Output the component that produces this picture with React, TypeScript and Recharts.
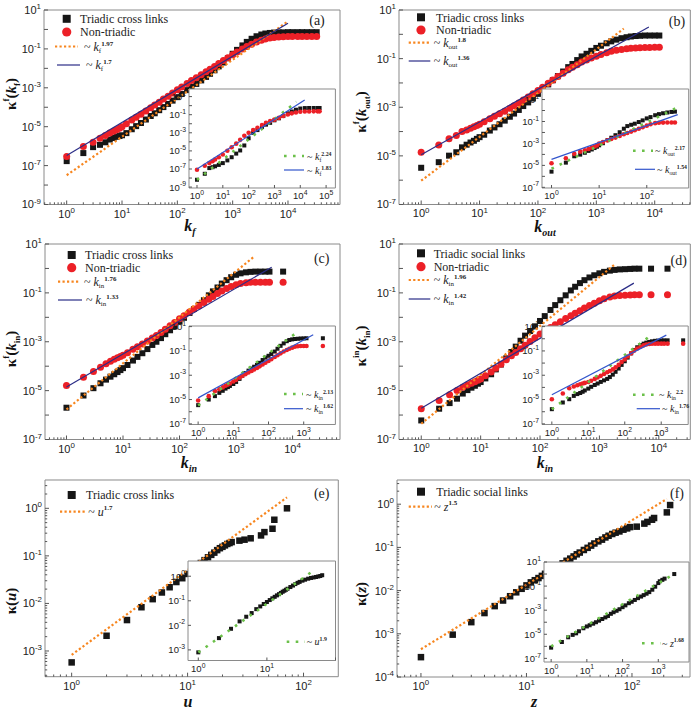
import React from 'react';
import { ComposedChart, Scatter, XAxis, YAxis, ReferenceArea } from 'recharts';

// ---------------- Panel (a) ----------------
const A_K = [1,2,3,4,5,6,7,8,9,10,12,15,18,22,27,33,39,47,56,68,82,100,120,150,180,220,270,330,390,470,560,680,820,1000,1200,1500,1800,2200,2700,3300,3900,4700,5600,6800,8200,10000,12000,15000,18000,22000,27000,33000];
const A_TRIADIC = [1.7e-7,4.4e-7,8.9e-7,1.17e-6,1.58e-6,2.19e-6,2.63e-6,3.02e-6,3.31e-6,3.63e-6,
  4.68e-6,7.41e-6,1.07e-5,1.55e-5,2.34e-5,3.55e-5,4.9e-5,7.08e-5,1.02e-4,1.48e-4,2.19e-4,
  3.31e-4,4.79e-4,7.59e-4,1.1e-3,1.58e-3,2.4e-3,3.63e-3,5.25e-3,7.94e-3,1.26e-2,2.0e-2,3.31e-2,
  5.62e-2,8.91e-2,0.151,0.229,0.331,0.447,0.55,0.617,0.661,0.692,0.708,0.708,
  0.724,0.724,0.724,0.724,0.724,0.724,0.724];
const A_NON = [2.95e-7,9.55e-7,1.58e-6,2.57e-6,3.55e-6,4.68e-6,5.75e-6,6.92e-6,8.32e-6,1e-5,
  1.41e-5,2.19e-5,3.09e-5,4.37e-5,6.46e-5,9.55e-5,1.29e-4,1.82e-4,2.63e-4,3.72e-4,5.37e-4,
  7.94e-4,1.1e-3,1.66e-3,2.34e-3,3.24e-3,4.68e-3,6.76e-3,9.12e-3,1.26e-2,1.78e-2,2.51e-2,3.55e-2,
  5.01e-2,6.92e-2,0.1,0.132,0.174,0.224,0.282,0.324,0.363,0.389,0.407,0.427,
  0.437,0.437,0.437,0.437,0.437,0.437,0.437];
const A_FIT1_K = [1, 10000]; const A_FIT1 = [3.2e-8, 2.6];
const A_FIT2_K = [1, 10000]; const A_FIT2 = [3.3e-7, 2.1];

const AI_K = [1,2,3,4,5,7,10,15,22,33,47,68,100,150,220,330,470,680,1000,1500,2200,3300,4700,6800,10000,15000,22000,33000,47000,56000];
const AI_TRIADIC = [6.46e-9,2.95e-8,1.26e-7,1.58e-7,2.0e-7,2.82e-7,4.47e-7,8.91e-7,2.0e-6,5.01e-6,1.12e-5,3.98e-5,2.51e-4,1e-3,2.0e-3,4.47e-3,7.94e-3,1.26e-2,2.4e-2,3.98e-2,7.08e-2,0.141,0.224,0.355,0.479,0.537,0.55,0.55,0.55,0.55];
const AI_NON = [8.32e-8,2.29e-7,4.47e-7,7.08e-7,1.12e-6,2.0e-6,3.98e-6,1.05e-5,2.51e-5,6.31e-5,1.66e-4,4.68e-4,1e-3,2.0e-3,3.55e-3,7.08e-3,1.26e-2,2.0e-2,2.82e-2,4.47e-2,7.08e-2,0.105,0.141,0.178,0.209,0.224,0.229,0.234,0.234,0.234];
const AI_FIT1_K = [1, 7080]; const AI_FIT1 = [6.3e-9, 2.6];
const AI_FIT2_K = [1, 14800]; const AI_FIT2 = [1e-7, 4.3];

// ---------------- Panel (b) ----------------
const B_K = [1,2,3,4,5,6,7,8,9,10,12,15,18,22,27,33,39,47,56,68,82,100,120,150,180,220,270,330,390,470,560,680,820,1000,1200,1500,1800,2200,2700,3300,3900,4700,5600,6800,8200,10000,12000];
const B_TRIADIC = [3.24e-6,5.5e-6,1.02e-5,1.41e-5,2.24e-5,2.88e-5,3.55e-5,4.17e-5,5.01e-5,5.89e-5,
  7.41e-5,1.1e-4,1.48e-4,2.0e-4,2.82e-4,4.07e-4,5.5e-4,7.76e-4,1.12e-3,1.58e-3,2.29e-3,
  3.55e-3,5.37e-3,8.71e-3,1.29e-2,1.91e-2,2.95e-2,4.47e-2,6.03e-2,8.71e-2,0.123,0.158,0.209,
  0.275,0.339,0.427,0.513,0.603,0.692,0.759,0.813,0.851,0.871,0.891,0.891,0.891,0.891];
const B_NON = [1.41e-5,2.82e-5,5.01e-5,6.92e-5,1e-4,1.17e-4,1.38e-4,1.58e-4,1.78e-4,2.0e-4,
  2.51e-4,3.39e-4,4.27e-4,5.37e-4,6.92e-4,9.12e-4,1.15e-3,1.51e-3,2.0e-3,2.63e-3,3.55e-3,
  4.9e-3,6.61e-3,9.77e-3,1.32e-2,1.82e-2,2.51e-2,3.47e-2,4.37e-2,5.62e-2,7.24e-2,8.71e-2,0.105,
  0.126,0.148,0.174,0.2,0.219,0.24,0.257,0.269,0.275,0.282,0.288,0.288,0.295,0.295];
const B_FIT1_K = [1, 2950]; const B_FIT1 = [9.5e-7, 1.7];
const B_FIT2_K = [1, 7940]; const B_FIT2 = [1.12e-5, 2.0];

const BI_K = [1,2,3,4,5,6,7,8,9,10,12,15,18,22,27,33,39,47,56,68,82,100,120,150,180,220,270,330,390];
const BI_TRIADIC = [2.69e-6,1.78e-5,6.76e-5,9.55e-5,1.41e-4,2.09e-4,2.82e-4,3.8e-4,5.01e-4,6.76e-4,1.05e-3,2.0e-3,3.31e-3,5.62e-3,1.05e-2,2.19e-2,3.8e-2,5.01e-2,6.31e-2,8.91e-2,0.126,0.191,0.251,0.372,0.468,0.562,0.661,0.741,0.794];
const BI_NON = [1.58e-5,4.47e-5,1.12e-4,1.78e-4,2.4e-4,3.16e-4,4.17e-4,5.25e-4,6.61e-4,1e-3,1.32e-3,1.91e-3,2.51e-3,3.39e-3,4.79e-3,6.92e-3,8.91e-3,1.2e-2,1.58e-2,2.19e-2,3.02e-2,4.17e-2,5.62e-2,7.08e-2,7.59e-2,7.94e-2,8.13e-2,8.13e-2,8.13e-2];
const BI_FIT1_K = [1, 430]; const BI_FIT1 = [5e-6, 1.8];
const BI_FIT2_K = [1, 447]; const BI_FIT2 = [3.55e-5, 0.427];

// ---------------- Panel (c) ----------------
const C_K = [1,2,3,4,5,6,7,8,9,10,12,15,18,22,27,33,39,47,56,68,82,100,120,150,180,220,270,330,390,470,560,680,820,1000,1200,1500,1800,2200,2700,3300,3900,6800];
const C_TRIADIC = [2.0e-6,6.31e-6,1.26e-5,2.0e-5,2.82e-5,3.72e-5,4.68e-5,5.75e-5,6.92e-5,8.32e-5,
  1.12e-4,1.7e-4,2.4e-4,3.39e-4,5.01e-4,7.41e-4,1e-3,1.41e-3,2.04e-3,2.95e-3,4.27e-3,
  6.61e-3,9.55e-3,1.51e-2,2.19e-2,3.24e-2,5.01e-2,7.94e-2,0.115,0.166,0.24,0.331,0.437,
  0.55,0.631,0.692,0.724,0.741,0.741,0.741,0.741,0.741];
const C_NON = [1.62e-5,3.55e-5,6.03e-5,9.12e-5,1.26e-4,1.58e-4,1.91e-4,2.19e-4,2.51e-4,2.82e-4,
  3.55e-4,4.9e-4,6.31e-4,8.13e-4,1.07e-3,1.41e-3,1.82e-3,2.4e-3,3.24e-3,4.47e-3,6.17e-3,
  8.71e-3,1.15e-2,1.66e-2,2.19e-2,2.88e-2,4.07e-2,5.5e-2,7.08e-2,9.33e-2,0.12,0.151,0.182,
  0.214,0.24,0.257,0.269,0.275,0.275,0.275,0.275,0.275];
const C_FIT1_K = [1, 2140]; const C_FIT1 = [1.7e-6, 3.2];
const C_FIT2_K = [1, 4270]; const C_FIT2 = [1.41e-5, 1.12];

const CI_K = [1,2,3,4,5,6,7,8,10,12,15,18,22,27,33,39,47,56,68,82,100,120,150,180,220,270,330,390,470,560,680,820,1000,1200,3500];
const CI_TRIADIC = [3.47e-6,1e-5,1.91e-5,3.55e-5,5.25e-5,7.94e-5,1.05e-4,1.32e-4,1.91e-4,2.82e-4,5.01e-4,8.91e-4,1.51e-3,2.4e-3,3.55e-3,5.01e-3,7.08e-3,1.05e-2,1.78e-2,2.82e-2,3.98e-2,5.62e-2,8.91e-2,0.151,0.263,0.417,0.631,0.794,0.891,0.955,1.0,1.05,1.07,1.1,1.1];
const CI_NON = [8.32e-6,1.91e-5,4.9e-5,7.08e-5,1e-4,1.35e-4,1.7e-4,2.09e-4,3.02e-4,4.17e-4,6.31e-4,8.71e-4,1.2e-3,1.66e-3,2.24e-3,2.95e-3,3.98e-3,5.37e-3,7.59e-3,1.07e-2,1.51e-2,2.09e-2,3.16e-2,4.37e-2,6.31e-2,8.91e-2,0.12,0.151,0.186,0.219,0.24,0.251,0.257,0.257,0.257];
const CI_FIT1_K = [1, 630]; const CI_FIT1 = [3.2e-6, 3.2];
const CI_FIT2_K = [1, 1860]; const CI_FIT2 = [1.38e-5, 2.1];

// ---------------- Panel (d) ----------------
const D_K = [1,2,3,4,5,6,7,8,9,10,12,15,18,22,27,33,39,47,56,68,82,100,120,150,180,220,270,330,390,470,560,680,820,1000,1200,1500,1800,2200,2700,3300,3900,4700,7400,14000];
const D_TRIADIC = [6.03e-7,1.82e-6,3.09e-6,4.68e-6,7.59e-6,1.05e-5,1.32e-5,1.58e-5,1.91e-5,2.24e-5,
  3.16e-5,4.68e-5,7.41e-5,1.17e-4,2.09e-4,3.8e-4,6.31e-4,1.1e-3,1.78e-3,2.75e-3,4.27e-3,
  7.08e-3,1.12e-2,2.0e-2,3.16e-2,5.01e-2,7.94e-2,0.126,0.178,0.251,0.331,0.427,0.525,
  0.631,0.724,0.813,0.871,0.912,0.933,0.955,0.977,0.977,0.977,0.977];
const D_NON = [1.82e-6,3.98e-6,6.76e-6,1.02e-5,1.38e-5,1.7e-5,2.0e-5,2.29e-5,2.63e-5,3.02e-5,
  4.07e-5,5.75e-5,8.32e-5,1.2e-4,1.82e-4,2.69e-4,3.63e-4,5.13e-4,7.24e-4,1.02e-3,1.45e-3,
  2.09e-3,2.75e-3,3.8e-3,5.01e-3,6.61e-3,8.91e-3,1.17e-2,1.45e-2,1.86e-2,2.4e-2,3.02e-2,3.8e-2,
  4.79e-2,5.75e-2,6.76e-2,7.41e-2,7.76e-2,7.94e-2,8.13e-2,8.32e-2,8.32e-2,8.32e-2,8.32e-2];
const D_FIT1_K = [1, 1780]; const D_FIT1 = [4.4e-7, 1.41];
const D_FIT2_K = [1, 3800]; const D_FIT2 = [1.9e-6, 0.251];

const DI_K = [1,2,3,4,5,6,7,8,10,12,15,18,22,27,33,39,47,56,68,82,100,120,150,180,220,270,330,390,470,560,680,820,1000,1200,1500,4000];
const DI_TRIADIC = [1.62e-6,5.75e-6,1.07e-5,2.0e-5,2.82e-5,3.47e-5,4.37e-5,5.62e-5,7.94e-5,1.12e-4,1.58e-4,2.09e-4,2.82e-4,3.8e-4,5.01e-4,7.08e-4,1.12e-3,1.91e-3,3.55e-3,7.08e-3,1.41e-2,2.82e-2,6.31e-2,0.12,0.2,0.302,0.398,0.479,0.55,0.617,0.676,0.708,0.724,0.741,0.741,0.741];
const DI_NON = [1.07e-5,3.16e-5,8.51e-5,1.2e-4,1.51e-4,1.82e-4,2.09e-4,2.34e-4,2.82e-4,3.55e-4,5.01e-4,6.61e-4,8.91e-4,1.26e-3,1.74e-3,2.24e-3,3.02e-3,4.47e-3,7.08e-3,1.2e-2,2.0e-2,3.47e-2,6.31e-2,0.105,0.158,0.224,0.288,0.339,0.372,0.389,0.398,0.398,0.398,0.398,0.398,0.398];
const DI_FIT1_K = [1, 537]; const DI_FIT1 = [1.6e-6, 2.0];
const DI_FIT2_K = [1, 1380]; const DI_FIT2 = [2.45e-5, 2.0];

// ---------------- Panel (e) ----------------
const E_U = [1,2,3,4,5,6,7,8,9,10,11,12,13,14,15,16,17,18,19,20,21,22,23,24,28,31,35,43,46,54,56,72];
const E_TRIADIC = [5.75e-4,2.09e-3,4.47e-3,8.32e-3,1.23e-2,1.7e-2,2.19e-2,2.82e-2,3.39e-2,4.17e-2,5.01e-2,6.03e-2,7.08e-2,8.13e-2,9.33e-2,0.105,0.117,0.132,0.145,0.155,0.166,0.178,0.186,0.195,0.209,0.219,0.234,0.269,0.316,0.372,0.575,1.0];
const E_FIT_U = [1, 72]; const E_FIT = [8.3e-4, 1.7];

const EI_U = [1,2,3,4,5,6,7,8,9,10,11,12,13,14,15,16,17,18,19,20,22,24,26,28,30,33,36,40,44,48,52,56,60,64];
const EI_TRIADIC = [7.94e-4,3.02e-3,7.24e-3,1.45e-2,2.24e-2,3.16e-2,4.57e-2,5.89e-2,7.41e-2,8.91e-2,0.107,0.126,0.145,0.166,0.186,0.209,0.234,0.257,0.282,0.309,0.363,0.417,0.479,0.537,0.589,0.661,0.724,0.794,0.851,0.891,0.933,0.977,1.02,1.1];
const EI_FIT_U = [1, 50]; const EI_FIT = [7.9e-4, 1.86];

// ---------------- Panel (f) ----------------
const F_Z = [1,2,3,4,5,6,7,8,9,10,11,12,13,14,15,16,17,18,19,20,22,24,26,28,30,32,35,38,41,44,48,52,56,60,65,70,76,83,90,96,111,131,140,155,162,214,230];
const F_TRIADIC = [2.88e-4,9.55e-4,1.86e-3,3.02e-3,4.37e-3,5.89e-3,7.41e-3,9.12e-3,1.1e-2,1.32e-2,1.55e-2,1.74e-2,1.95e-2,2.19e-2,2.45e-2,2.69e-2,2.95e-2,3.24e-2,3.47e-2,3.72e-2,
  4.27e-2,4.9e-2,5.5e-2,6.17e-2,6.92e-2,7.59e-2,8.71e-2,9.77e-2,0.11,0.123,0.138,0.151,0.17,0.186,0.204,0.219,0.234,0.257,0.275,0.295,
  0.302,0.355,0.389,0.437,0.479,0.646,0.955];
const F_FIT_Z = [1, 214]; const F_FIT = [4.4e-4, 1.32];

const FI_Z = [1,2,3,4,5,6,8,10,12,15,18,22,27,33,39,47,56,68,82,100,120,150,180,220,270,330,390,470,560,680,820,1000,1100,1300,1500,2800];
const FI_TRIADIC = [7.76e-7,2.29e-6,5.62e-6,8.91e-6,1.2e-5,1.78e-5,3.16e-5,4.47e-5,5.62e-5,7.59e-5,1e-4,1.35e-4,1.86e-4,2.51e-4,3.31e-4,5.01e-4,6.76e-4,8.91e-4,1.2e-3,1.78e-3,2.51e-3,3.8e-3,5.01e-3,7.08e-3,1e-2,1.35e-2,1.78e-2,2.34e-2,3.16e-2,5.01e-2,8.91e-2,0.178,0.251,0.331,0.417,1.0];
const FI_FIT_Z = [1, 2750]; const FI_FIT = [1e-6, 1.0];

// ---------------- styling ----------------
const SANS = '"Liberation Sans", Arial, sans-serif';
const SERIF = '"Liberation Serif", "Times New Roman", serif';
const C_BLACK = '#161616';
const C_RED = '#ec2027';
const C_ORANGE = '#f7861f';
const C_NAVY = '#2b2d87';
const C_BLUE = '#3355cc';
const C_GREEN = '#6cc04a';
const C_FRAME = '#8a8a8a';
const C_TICK = '#555';

type Pt = { x: number; y: number };
const zip = (xs: number[], ys: number[]): Pt[] => xs.map((x, i) => ({ x, y: ys[i] }));

function logTicks(dom: [number, number], minor: boolean): number[] {
  const out: number[] = [];
  const lo = Math.floor(Math.log10(dom[0]));
  const hi = Math.ceil(Math.log10(dom[1]));
  for (let e = lo; e <= hi; e++) {
    const base = Math.pow(10, e);
    const ms = minor ? [1, 2, 3, 4, 5, 6, 7, 8, 9] : [1];
    for (const m of ms) {
      const v = m * base;
      if (v >= dom[0] * 0.9999 && v <= dom[1] * 1.0001) out.push(v);
    }
  }
  return out;
}

function makeTick(orient: 'x' | 'y', fs: number, labels: number[], len: number) {
  return (props: any) => {
    const { x, y, payload } = props;
    const v = payload.value;
    const lg = Math.log10(v);
    const e = Math.round(lg);
    const isDec = Math.abs(lg - e) < 1e-6;
    const l = isDec ? len : len * 0.55;
    const lab = isDec && labels.indexOf(e) >= 0;
    const sfs = fs * 0.72;
    if (orient === 'x') {
      return (
        <g>
          <line x1={x} y1={y} x2={x} y2={y - l} stroke={C_TICK} strokeWidth={1} />
          {lab ? (
            <text x={x} y={y + fs + 2} textAnchor="middle" fontSize={fs} fontFamily={SANS} fill="#222">
              10<tspan dy={-fs * 0.45} fontSize={sfs}>{String(e)}</tspan>
            </text>
          ) : null}
        </g>
      );
    }
    return (
      <g>
        <line x1={x} y1={y} x2={x + l} y2={y} stroke={C_TICK} strokeWidth={1} />
        {lab ? (
          <text x={x - 3} y={y + fs * 0.36} textAnchor="end" fontSize={fs} fontFamily={SANS} fill="#222">
            10<tspan dy={-fs * 0.45} fontSize={sfs}>{String(e)}</tspan>
          </text>
        ) : null}
      </g>
    );
  };
}

const sqShape = (s: number, c: string) => (p: any) => (
  <rect x={p.cx - s / 2} y={p.cy - s / 2} width={s} height={s} fill={c} />
);
const ciShape = (s: number, c: string) => (p: any) => <circle cx={p.cx} cy={p.cy} r={s / 2} fill={c} />;
const noShape = () => <g />;

function dots(key: string, xs: number[], ys: number[], kind: 'sq' | 'ci', size: number, color: string) {
  return (
    <Scatter key={key} data={zip(xs, ys)} isAnimationActive={false} fill={color}
      shape={kind === 'sq' ? sqShape(size, color) : ciShape(size, color)} />
  );
}
function fit(key: string, xs: number[], ys: number[], color: string, width: number, dash?: string) {
  return (
    <Scatter key={key} data={zip(xs, ys)} isAnimationActive={false} fill={color}
      line={{ stroke: color, strokeWidth: width, strokeDasharray: dash }} shape={noShape} />
  );
}

interface PanelProps {
  box: [number, number, number, number];
  xDom: [number, number];
  yDom: [number, number];
  xMinor: boolean;
  yMinor: boolean;
  xLab: number[];
  yLab: number[];
  fs: number;
  len: number;
  inset?: boolean;
  children: React.ReactNode;
}

function LogPanel(p: PanelProps) {
  const YW = 46, XH = 26, MT = 10, MR = 6;
  const [l, t, r, b] = p.box;
  const w = r - l;
  const h = b - t;
  return (
    <>
      {p.inset ? (
        <div style={{ position: 'absolute', left: l, top: t, width: w, height: h, background: '#fff' }} />
      ) : null}
      <div style={{ position: 'absolute', left: l - YW, top: t - MT }}>
        <ComposedChart width={w + YW + MR} height={h + MT + XH} margin={{ top: MT, right: MR, bottom: 0, left: 0 }}>
          <XAxis dataKey="x" type="number" scale="log" domain={p.xDom} allowDataOverflow
            ticks={logTicks(p.xDom, p.xMinor)} interval={0} tickSize={0} tickMargin={0}
            axisLine={false} tickLine={false} height={XH} tick={makeTick('x', p.fs, p.xLab, p.len)} />
          <YAxis dataKey="y" type="number" scale="log" domain={p.yDom} allowDataOverflow
            ticks={logTicks(p.yDom, p.yMinor)} interval={0} tickSize={0} tickMargin={0}
            axisLine={false} tickLine={false} width={YW} tick={makeTick('y', p.fs, p.yLab, p.len)} />
          <ReferenceArea x1={p.xDom[0]} x2={p.xDom[1]} y1={p.yDom[0]} y2={p.yDom[1]}
            fill="none" fillOpacity={0} stroke={C_FRAME} strokeWidth={1} ifOverflow="visible" />
          {p.children}
        </ComposedChart>
      </div>
    </>
  );
}

// -------- overlay text helpers --------
function PowText({ x, y, v, sub, exp, fs }: { x: number; y: number; v: string; sub?: string; exp: string; fs: number }) {
  const sf = fs * 0.58;
  return (
    <text x={x} y={y} fontSize={fs} fontFamily={SERIF} fill="#222">
      {'~ '}
      <tspan fontStyle="italic">{v}</tspan>
      {sub ? <tspan fontSize={sf} dy={fs * 0.2}>{sub}</tspan> : null}
      <tspan fontSize={sf} fontWeight="bold" dy={sub ? -fs * 0.6 : -fs * 0.42}>{exp}</tspan>
    </text>
  );
}
function YTitle({ cx, cy, sup, v, sub }: { cx: number; cy: number; sup?: string; v: string; sub?: string }) {
  return (
    <text transform={`translate(${cx},${cy}) rotate(-90)`} textAnchor="middle" fontFamily={SERIF}
      fontSize={15} fontWeight="bold" fill="#111">
      {'κ'}
      {sup ? <tspan fontSize={9} dy={-7}>{sup}</tspan> : null}
      <tspan dy={sup ? 7 : 0}>(</tspan>
      <tspan fontStyle="italic">{v}</tspan>
      {sub ? <tspan fontSize={9} dy={4}>{sub}</tspan> : null}
      <tspan dy={sub ? -4 : 0}>)</tspan>
    </text>
  );
}
function XTitle({ x, y, v, sub }: { x: number; y: number; v: string; sub?: string }) {
  return (
    <text x={x} y={y} textAnchor="middle" fontFamily={SERIF} fontSize={16} fontWeight="bold" fontStyle="italic" fill="#111">
      {v}
      {sub ? <tspan fontSize={10} dy={4}>{sub}</tspan> : null}
    </text>
  );
}
function LegSq({ x, y }: { x: number; y: number }) {
  return <rect x={x - 4} y={y - 4} width={8} height={8} fill={C_BLACK} />;
}
function LegCi({ x, y }: { x: number; y: number }) {
  return <circle cx={x} cy={y} r={4.6} fill={C_RED} />;
}
function LegText({ x, y, t }: { x: number; y: number; t: string }) {
  return <text x={x} y={y} fontSize={12} fontFamily={SERIF} fill="#222">{t}</text>;
}
function LegLine({ x1, x2, y, c, w, dash }: { x1: number; x2: number; y: number; c: string; w: number; dash?: string }) {
  return <line x1={x1} x2={x2} y1={y} y2={y} stroke={c} strokeWidth={w} strokeDasharray={dash} />;
}
function Tag({ x, y, t }: { x: number; y: number; t: string }) {
  return <text x={x} y={y} textAnchor="middle" fontSize={14} fontFamily={SERIF} fill="#222">{t}</text>;
}

const OR_DASH = '2.2 2.3';
const GR_DASH = '2.6 6.4';

export default function App() {
  return (
    <div style={{ position: 'absolute', left: 0, top: 0, width: 694, height: 711, background: '#fff', overflow: 'hidden' }}>
      {/* (a) */}
      <LogPanel box={[44, 9.5, 340, 204]} xDom={[0.389, 87100]} yDom={[1e-9, 10]} xMinor yMinor={false}
        xLab={[0, 1, 2, 3, 4]} yLab={[1, -1, -3, -5, -7, -9]} fs={11} len={4}>
        {dots('t', A_K, A_TRIADIC, 'sq', 6, C_BLACK)}
        {dots('n', A_K, A_NON, 'ci', 7, C_RED)}
        {fit('f1', A_FIT1_K, A_FIT1, C_ORANGE, 2.2, OR_DASH)}
        {fit('f2', A_FIT2_K, A_FIT2, C_NAVY, 1.2)}
      </LogPanel>
      <LogPanel box={[189.3, 89.3, 335.7, 188.3]} xDom={[0.49, 229000]} yDom={[7.94e-10, 69]} xMinor={false} yMinor={false}
        xLab={[0, 1, 2, 3, 4, 5]} yLab={[1, -1, -3, -5, -7, -9]} fs={9.5} len={3} inset>
        {dots('t', AI_K, AI_TRIADIC, 'sq', 4, C_BLACK)}
        {dots('n', AI_K, AI_NON, 'ci', 4.6, C_RED)}
        {fit('f1', AI_FIT1_K, AI_FIT1, C_GREEN, 2.6, GR_DASH)}
        {fit('f2', AI_FIT2_K, AI_FIT2, C_BLUE, 1.2)}
      </LogPanel>

      {/* (b) */}
      <LogPanel box={[398.7, 9.5, 690, 204]} xDom={[0.417, 40700]} yDom={[1e-7, 10]} xMinor yMinor={false}
        xLab={[0, 1, 2, 3, 4]} yLab={[1, -1, -3, -5, -7]} fs={11} len={4}>
        {dots('t', B_K, B_TRIADIC, 'sq', 6, C_BLACK)}
        {dots('n', B_K, B_NON, 'ci', 7, C_RED)}
        {fit('f1', B_FIT1_K, B_FIT1, C_ORANGE, 2.2, OR_DASH)}
        {fit('f2', B_FIT2_K, B_FIT2, C_NAVY, 1.2)}
      </LogPanel>
      <LogPanel box={[542, 89.3, 688.7, 188.3]} xDom={[0.631, 758.6]} yDom={[8.7e-8, 91.2]} xMinor={false} yMinor={false}
        xLab={[0, 1, 2]} yLab={[1, -1, -3, -5, -7]} fs={9.5} len={3} inset>
        {dots('t', BI_K, BI_TRIADIC, 'sq', 4, C_BLACK)}
        {dots('n', BI_K, BI_NON, 'ci', 4.6, C_RED)}
        {fit('f1', BI_FIT1_K, BI_FIT1, C_GREEN, 2.6, GR_DASH)}
        {fit('f2', BI_FIT2_K, BI_FIT2, C_BLUE, 1.2)}
      </LogPanel>

      {/* (c) */}
      <LogPanel box={[45, 243.5, 340, 439]} xDom={[0.417, 69000]} yDom={[1e-7, 10]} xMinor yMinor={false}
        xLab={[0, 1, 2, 3, 4]} yLab={[1, -1, -3, -5, -7]} fs={11} len={4}>
        {dots('t', C_K, C_TRIADIC, 'sq', 6, C_BLACK)}
        {dots('n', C_K, C_NON, 'ci', 7, C_RED)}
        {fit('f1', C_FIT1_K, C_FIT1, C_ORANGE, 2.2, OR_DASH)}
        {fit('f2', C_FIT2_K, C_FIT2, C_NAVY, 1.2)}
      </LogPanel>
      <LogPanel box={[189.3, 326, 335.7, 424.5]} xDom={[0.55, 7943]} yDom={[8.9e-8, 11.2]} xMinor={false} yMinor={false}
        xLab={[0, 1, 2, 3]} yLab={[1, -1, -3, -5, -7]} fs={9.5} len={3} inset>
        {dots('t', CI_K, CI_TRIADIC, 'sq', 4, C_BLACK)}
        {dots('n', CI_K, CI_NON, 'ci', 4.6, C_RED)}
        {fit('f1', CI_FIT1_K, CI_FIT1, C_GREEN, 2.6, GR_DASH)}
        {fit('f2', CI_FIT2_K, CI_FIT2, C_BLUE, 1.2)}
      </LogPanel>

      {/* (d) */}
      <LogPanel box={[398.7, 243.5, 690, 439]} xDom={[0.422, 33900]} yDom={[1e-7, 10]} xMinor yMinor={false}
        xLab={[0, 1, 2, 3, 4]} yLab={[1, -1, -3, -5, -7]} fs={11} len={4}>
        {dots('t', D_K, D_TRIADIC, 'sq', 6, C_BLACK)}
        {dots('n', D_K, D_NON, 'ci', 7, C_RED)}
        {fit('f1', D_FIT1_K, D_FIT1, C_ORANGE, 2.2, OR_DASH)}
        {fit('f2', D_FIT2_K, D_FIT2, C_NAVY, 1.2)}
      </LogPanel>
      <LogPanel box={[542.3, 326, 688.5, 424.5]} xDom={[0.537, 5495]} yDom={[8.9e-8, 11.2]} xMinor={false} yMinor={false}
        xLab={[0, 1, 2, 3]} yLab={[1, -1, -3, -5, -7]} fs={9.5} len={3} inset>
        {dots('t', DI_K, DI_TRIADIC, 'sq', 4, C_BLACK)}
        {dots('n', DI_K, DI_NON, 'ci', 4.6, C_RED)}
        {fit('f1', DI_FIT1_K, DI_FIT1, C_GREEN, 2.6, GR_DASH)}
        {fit('f2', DI_FIT2_K, DI_FIT2, C_BLUE, 1.2)}
      </LogPanel>

      {/* (e) */}
      <LogPanel box={[45, 480, 338.3, 676.7]} xDom={[0.589, 199.5]} yDom={[2.88e-4, 3.94]} xMinor yMinor
        xLab={[0, 1, 2]} yLab={[0, -1, -2, -3]} fs={11} len={4}>
        {dots('t', E_U, E_TRIADIC, 'sq', 6.5, C_BLACK)}
        {fit('f1', E_FIT_U, E_FIT, C_ORANGE, 2.2, OR_DASH)}
      </LogPanel>
      <LogPanel box={[188, 561, 335.5, 660.5]} xDom={[0.708, 100]} yDom={[3.7e-4, 4.17]} xMinor={false} yMinor={false}
        xLab={[0, 1]} yLab={[0, -1, -2, -3]} fs={9.5} len={3} inset>
        {dots('t', EI_U, EI_TRIADIC, 'sq', 4, C_BLACK)}
        {fit('f1', EI_FIT_U, EI_FIT, C_GREEN, 2.6, GR_DASH)}
      </LogPanel>

      {/* (f) */}
      <LogPanel box={[397, 480, 690, 677]} xDom={[0.593, 354.8]} yDom={[1e-4, 3.63]} xMinor yMinor
        xLab={[0, 1, 2]} yLab={[0, -1, -2, -3, -4]} fs={11} len={4}>
        {dots('t', F_Z, F_TRIADIC, 'sq', 6.5, C_BLACK)}
        {fit('f1', F_FIT_Z, F_FIT, C_ORANGE, 2.2, OR_DASH)}
      </LogPanel>
      <LogPanel box={[543.7, 561.7, 688.7, 661.7]} xDom={[0.631, 7244]} yDom={[5e-8, 10]} xMinor={false} yMinor={false}
        xLab={[0, 1, 2, 3]} yLab={[1, -1, -3, -5, -7]} fs={9.5} len={3} inset>
        {dots('t', FI_Z, FI_TRIADIC, 'sq', 4, C_BLACK)}
        {fit('f1', FI_FIT_Z, FI_FIT, C_GREEN, 2.6, GR_DASH)}
      </LogPanel>

      {/* texts, legends, titles */}
      <svg width={694} height={711} style={{ position: 'absolute', left: 0, top: 0, pointerEvents: 'none' }}>
        {/* (a) */}
        <LegSq x={66.7} y={18.8} /><LegText x={80} y={23} t="Triadic cross links" />
        <LegCi x={66.7} y={32} /><LegText x={80} y={36.3} t="Non-triadic" />
        <LegLine x1={55} x2={78} y={46.5} c={C_ORANGE} w={2.2} dash={OR_DASH} />
        <PowText x={84} y={50.5} v="k" sub="f" exp="1.97" fs={12} />
        <LegLine x1={57} x2={80} y={65} c={C_NAVY} w={1.2} />
        <PowText x={86} y={69} v="k" sub="f" exp="1.7" fs={12} />
        <Tag x={317} y={24.5} t="(a)" />
        <LegLine x1={284} x2={304} y={156} c={C_GREEN} w={2.6} dash={GR_DASH} />
        <PowText x={307} y={159.5} v="k" sub="f" exp="2.24" fs={10} />
        <LegLine x1={284} x2={304} y={170} c={C_BLUE} w={1.2} />
        <PowText x={307} y={173.5} v="k" sub="f" exp="1.83" fs={10} />
        <YTitle cx={16} cy={94} sup="f" v="k" sub="f" />
        <XTitle x={190} y={231} v="k" sub="f" />

        {/* (b) */}
        <LegSq x={421} y={17.3} /><LegText x={436} y={21.5} t="Triadic cross links" />
        <LegCi x={421} y={30} /><LegText x={436} y={34} t="Non-triadic" />
        <LegLine x1={408.7} x2={430.3} y={42.7} c={C_ORANGE} w={2.2} dash={OR_DASH} />
        <PowText x={433.7} y={46.5} v="k" sub="out" exp="1.8" fs={12} />
        <LegLine x1={408.7} x2={430.3} y={61} c={C_NAVY} w={1.2} />
        <PowText x={433.7} y={65} v="k" sub="out" exp="1.36" fs={12} />
        <Tag x={677} y={26} t="(b)" />
        <LegLine x1={633} x2={653} y={150.7} c={C_GREEN} w={2.6} dash={GR_DASH} />
        <PowText x={655} y={154} v="k" sub="out" exp="2.17" fs={10} />
        <LegLine x1={635} x2={655} y={169.3} c={C_BLUE} w={1.2} />
        <PowText x={657} y={172.5} v="k" sub="out" exp="1.54" fs={10} />
        <YTitle cx={366} cy={112} sup="f" v="k" sub="out" />
        <XTitle x={545} y={232} v="k" sub="out" />

        {/* (c) */}
        <LegSq x={71.7} y={255} /><LegText x={85} y={259} t="Triadic cross links" />
        <LegCi x={71.7} y={267.7} /><LegText x={85} y={271.5} t="Non-triadic" />
        <LegLine x1={58} x2={80} y={281.7} c={C_ORANGE} w={2.2} dash={OR_DASH} />
        <PowText x={84} y={285.5} v="k" sub="in" exp="1.76" fs={12} />
        <LegLine x1={58} x2={82} y={300} c={C_NAVY} w={1.2} />
        <PowText x={86} y={304} v="k" sub="in" exp="1.33" fs={12} />
        <Tag x={321.7} y={263} t="(c)" />
        <LegLine x1={284} x2={303} y={394} c={C_GREEN} w={2.6} dash={GR_DASH} />
        <PowText x={306} y={397.5} v="k" sub="in" exp="2.13" fs={10} />
        <LegLine x1={284} x2={303} y={408.7} c={C_BLUE} w={1.2} />
        <PowText x={306} y={412} v="k" sub="in" exp="1.62" fs={10} />
        <YTitle cx={16} cy={349} sup="f" v="k" sub="in" />
        <XTitle x={189} y={468} v="k" sub="in" />

        {/* (d) */}
        <LegSq x={421} y={253.3} /><LegText x={433.7} y={257.5} t="Triadic social links" />
        <LegCi x={421} y={266.7} /><LegText x={433.7} y={270.5} t="Non-triadic" />
        <LegLine x1={408.7} x2={430.3} y={280} c={C_ORANGE} w={2.2} dash={OR_DASH} />
        <PowText x={433.7} y={284} v="k" sub="in" exp="1.96" fs={12} />
        <LegLine x1={408.7} x2={430.3} y={299} c={C_NAVY} w={1.2} />
        <PowText x={433.7} y={303} v="k" sub="in" exp="1.42" fs={12} />
        <Tag x={678.7} y={264.5} t="(d)" />
        <LegLine x1={633} x2={657} y={394.7} c={C_GREEN} w={2.6} dash={GR_DASH} />
        <PowText x={659} y={398} v="k" sub="in" exp="2.2" fs={10} />
        <LegLine x1={636.7} x2={660} y={408.7} c={C_BLUE} w={1.2} />
        <PowText x={662} y={412} v="k" sub="in" exp="1.76" fs={10} />
        <YTitle cx={366} cy={346} sup="in" v="k" sub="in" />
        <XTitle x={545} y={468} v="k" sub="in" />

        {/* (e) */}
        <LegSq x={71.7} y={495} /><LegText x={86} y={499} t="Triadic cross links" />
        <LegLine x1={60} x2={85} y={511.7} c={C_ORANGE} w={2.2} dash={OR_DASH} />
        <PowText x={88.3} y={515.5} v="u" exp="1.7" fs={12} />
        <Tag x={321.7} y={498} t="(e)" />
        <LegLine x1={286.7} x2={305} y={641.7} c={C_GREEN} w={2.6} dash={GR_DASH} />
        <PowText x={306.7} y={645} v="u" exp="1.9" fs={10} />
        <YTitle cx={16} cy={601} v="u" />
        <XTitle x={188} y={707} v="u" />

        {/* (f) */}
        <LegSq x={421} y={491.7} /><LegText x={436.3} y={496} t="Triadic social links" />
        <LegLine x1={408.7} x2={432} y={506.7} c={C_ORANGE} w={2.2} dash={OR_DASH} />
        <PowText x={434.3} y={510.5} v="z" exp="1.5" fs={12} />
        <Tag x={677} y={498} t="(f)" />
        <LegLine x1={642} x2={660.3} y={643.3} c={C_GREEN} w={2.6} dash={GR_DASH} />
        <PowText x={662} y={646.5} v="z" exp="1.68" fs={10} />
        <YTitle cx={366} cy={594} v="z" />
        <XTitle x={534} y={707} v="z" />
      </svg>
    </div>
  );
}
